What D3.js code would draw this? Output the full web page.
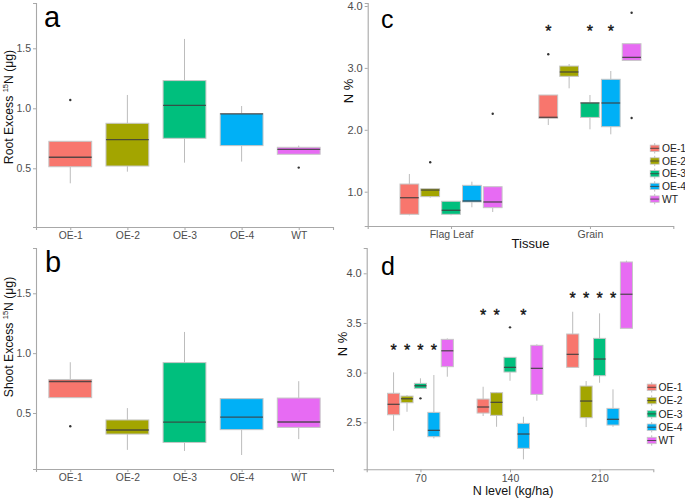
<!DOCTYPE html>
<html><head><meta charset="utf-8">
<script src="https://cdn.jsdelivr.net/npm/d3@7"></script>
<style>body{margin:0;background:#fff}svg{display:block;font-family:"Liberation Sans",Arial,sans-serif}</style>
</head><body><svg id="chart" width="685" height="499"></svg>
<script>
// ---------- data ----------
const genotypes = ["OE-1","OE-2","OE-3","OE-4","WT"];
const colors = ["#F8766D","#A3A500","#00BF7D","#00B0F6","#E76BF3"];
// each box: [lower whisker, q1, median, q3, upper whisker]
const rootStats = [[0.375,0.513,0.592,0.725,0.725],[0.472,0.519,0.739,0.875,1.111],[0.547,0.750,1.025,1.231,1.578],[0.556,0.689,0.953,0.956,1.019],[0.617,0.617,0.658,0.675,0.689]];
const rootOutliers = [[1.069],[],[],[],[0.506]];
const shootStats = [[0.628,0.628,0.763,0.780,0.924],[0.192,0.324,0.358,0.442,0.541],[0.183,0.254,0.423,0.921,1.177],[0.149,0.361,0.465,0.620,0.620],[0.282,0.380,0.425,0.625,0.766]];
const shootOutliers = [[0.389],[],[],[],[]];
const yTicksAB = [0.5,1.0,1.5];

const tissues = ["Flag Leaf","Grain"];
const flagLeafStats = [[0.619,0.635,0.903,1.124,1.286],[0.903,0.920,1.027,1.049,1.049],[0.619,0.635,0.700,0.845,0.845],[0.748,0.834,0.850,1.103,1.162],[0.672,0.742,0.834,1.081,1.081]];
const flagLeafOutliers = [[],[1.475],[],[],[2.26]];
const grainStats = [[2.077,2.186,2.202,2.562,2.562],[2.670,2.864,2.934,3.030,3.063],[2.008,2.200,2.433,2.438,2.562],[1.927,2.050,2.433,2.816,2.950],[3.122,3.122,3.170,3.391,3.391]];
const grainOutliers = [[3.22],[],[],[],[3.89,2.19]];
const tissueStars = [[],[0,2,3]];       // genotype indices marked per tissue
const tissueStarLevel = [null,3.63];
const yTicksC = [1.0,2.0,3.0,4.0];

const nLevels = ["70","140","210"];
const n70Stats = [[2.415,2.576,2.681,2.792,3.003],[2.606,2.697,2.737,2.764,2.774],[2.842,2.842,2.868,2.892,2.943],[2.338,2.355,2.419,2.600,2.976],[2.959,3.060,3.220,3.335,3.345]];
const n70Outliers = [[],[],[2.741],[],[]];
const n140Stats = [[2.563,2.593,2.654,2.734,2.858],[2.455,2.570,2.701,2.798,2.805],[2.918,3.006,3.053,3.154,3.154],[2.127,2.238,2.382,2.489,2.556],[2.717,2.781,3.043,3.275,3.285]];
const n140Outliers = [[],[],[3.456],[],[]];
const n210Stats = [[3.053,3.053,3.184,3.389,3.613],[2.452,2.546,2.714,2.865,2.915],[2.898,2.969,3.137,3.345,3.597],[2.455,2.472,2.530,2.640,2.832],[3.446,3.446,3.789,4.114,4.127]];
const n210Outliers = [[],[],[],[],[]];
const nStars = [[0,1,2,3],[0,1,3],[0,1,2,3]];
const nStarLevel = [3.245,3.600,3.775];
const yTicksD = [2.5,3.0,3.5,4.0];

// ---------- drawing ----------
const svg = d3.select("#chart");
const AXIS = "#a8a8a8", WHISK = "#bcbcbc", OUTLINE = "#c6c6c6", MED = "#3d3d3d", TICKTXT = "#4d4d4d";

function yScale(v1,p1,v2,p2,top,bottom){
  const k = (p2-p1)/(v2-v1);
  const lo = v1 + (bottom-p1)/k, hi = v1 + (top-p1)/k;
  return d3.scaleLinear().domain([lo,hi]).range([bottom,top]);
}

function axes(g, x, y, yTicks, fmt, yFont, xFont){
  const xa = g.append("g").attr("transform",`translate(0,${y.range()[0]})`)
    .call(d3.axisBottom(x).tickSizeOuter(0).tickSize(3).tickPadding(2));
  const ya = g.append("g").attr("transform",`translate(${x.range()[0]},0)`)
    .call(d3.axisLeft(y).tickValues(yTicks).tickFormat(d3.format(fmt)).tickSizeOuter(0).tickSize(3).tickPadding(2));
  [xa,ya].forEach(a=>{
    a.select(".domain").attr("stroke",AXIS).attr("stroke-width",1.1);
    a.selectAll(".tick line").attr("stroke",AXIS);
    a.selectAll(".tick text").attr("fill",TICKTXT).attr("font-family","Liberation Sans, Arial, sans-serif");
  });
  xa.selectAll(".tick text").attr("font-size",xFont);
  ya.selectAll(".tick text").attr("font-size",yFont);
}

function box(g, cx, w, s, color, outs, y){
  const [lw,q1,med,q3,uw] = s;
  g.append("line").attr("x1",cx).attr("x2",cx).attr("y1",y(q3)).attr("y2",y(uw)).attr("stroke",WHISK).attr("stroke-width",1);
  g.append("line").attr("x1",cx).attr("x2",cx).attr("y1",y(q1)).attr("y2",y(lw)).attr("stroke",WHISK).attr("stroke-width",1);
  g.append("rect").attr("x",cx-w/2).attr("width",w).attr("y",y(q3)).attr("height",Math.max(0.5,y(q1)-y(q3)))
    .attr("fill",color).attr("stroke",OUTLINE).attr("stroke-width",1);
  g.append("line").attr("x1",cx-w/2).attr("x2",cx+w/2).attr("y1",y(med)).attr("y2",y(med)).attr("stroke",MED).attr("stroke-width",1.3).attr("stroke-opacity",0.85);
  outs.forEach(o=>g.append("circle").attr("cx",cx).attr("cy",y(o)).attr("r",1.2).attr("fill","#333"));
}

function yTitle(xb, yc, parts, size){
  const t = svg.append("text").attr("transform",`translate(${xb},${yc}) rotate(-90)`).attr("text-anchor","middle")
    .attr("font-size",size).attr("fill","#111");
  parts.forEach(p=>{
    const ts = t.append("tspan").text(p.t);
    if(p.sup) ts.attr("font-size",size*0.62).attr("dy",-size*0.38);
    else if(p.after) ts.attr("dy",size*0.38);
  });
}

function star(g, cx, cy){
  g.append("text").attr("x",cx).attr("y",cy+8).attr("text-anchor","middle").attr("font-size",16)
    .attr("fill","#111").attr("stroke","#111").attr("stroke-width",0.35).text("*");
}

function legend(g, x0, yc0, step, textX){
  genotypes.forEach((gname,i)=>{
    const yc = yc0 + i*step, w = 9, h = 6.4;
    g.append("line").attr("x1",x0).attr("x2",x0).attr("y1",yc-h/2-2).attr("y2",yc+h/2+2).attr("stroke",WHISK);
    g.append("rect").attr("x",x0-w/2).attr("y",yc-h/2).attr("width",w).attr("height",h).attr("fill",colors[i]).attr("stroke",OUTLINE).attr("stroke-width",0.8);
    g.append("line").attr("x1",x0-w/2).attr("x2",x0+w/2).attr("y1",yc).attr("y2",yc).attr("stroke",MED).attr("stroke-width",1).attr("stroke-opacity",0.85);
    g.append("text").attr("x",textX).attr("y",yc+3.6).attr("font-size",10.3).attr("fill","#222").text(gname);
  });
}

// ----- panel a -----
(function(){
  const g = svg.append("g");
  const x = d3.scalePoint().domain(genotypes).range([36,333]).padding(0.6);
  const y = yScale(0.5,168.3,1.5,48.3,3,227);
  axes(g,x,y,yTicksAB,".1f",10.5,10.3);
  const w = x.step()*0.75;
  genotypes.forEach((gn,i)=>box(g,x(gn),w,rootStats[i],colors[i],rootOutliers[i],y));
  svg.append("text").attr("x",44).attr("y",27).attr("font-size",29).attr("fill","#000").text("a");
  yTitle(13,107,[{t:"Root Excess "},{t:"15",sup:true},{t:"N (μg)",after:true}],12.2);
})();

// ----- panel b -----
(function(){
  const g = svg.append("g");
  const x = d3.scalePoint().domain(genotypes).range([36,333]).padding(0.6);
  const y = yScale(0.5,413,1.5,293.3,248,469);
  axes(g,x,y,yTicksAB,".1f",10.5,10.3);
  const w = x.step()*0.75;
  genotypes.forEach((gn,i)=>box(g,x(gn),w,shootStats[i],colors[i],shootOutliers[i],y));
  svg.append("text").attr("x",45).attr("y",272).attr("font-size",29).attr("fill","#000").text("b");
  yTitle(13,337,[{t:"Shoot Excess "},{t:"15",sup:true},{t:"N (μg)",after:true}],12.2);
})();

// ----- panel c -----
(function(){
  const g = svg.append("g");
  const x = d3.scalePoint().domain(tissues).range([367.7,673.3]).padding(0.6);
  const y = yScale(1.0,191.7,4.0,6,3,226);
  axes(g,x,y,yTicksC,".1f",11,10.5);
  const sub = x.step()*0.75/5;
  const stats = [flagLeafStats,grainStats], outs = [flagLeafOutliers,grainOutliers];
  tissues.forEach((t,ti)=>{
    genotypes.forEach((gn,i)=>box(g,x(t)+(i-2)*sub,sub*0.9,stats[ti][i],colors[i],outs[ti][i],y));
    tissueStars[ti].forEach(i=>star(g,x(t)+(i-2)*sub,y(tissueStarLevel[ti])));
  });
  svg.append("text").attr("x",381).attr("y",28).attr("font-size",25).attr("fill","#000").text("c");
  yTitle(352.5,91,[{t:"N %"}],13);
  svg.append("text").attr("x",530.5).attr("y",248).attr("text-anchor","middle").attr("font-size",13).attr("fill","#111").text("Tissue");
  legend(g,654.7,148.3,12.7,662);
})();

// ----- panel d -----
(function(){
  const g = svg.append("g");
  const x = d3.scalePoint().domain(nLevels).range([366.7,653.3]).padding(0.6);
  const y = yScale(2.5,422.3,4.0,273.3,248,469.3);
  axes(g,x,y,yTicksD,".1f",11,10.5);
  const sub = x.step()*0.75/5;
  const stats = [n70Stats,n140Stats,n210Stats], outs = [n70Outliers,n140Outliers,n210Outliers];
  nLevels.forEach((lv,li)=>{
    genotypes.forEach((gn,i)=>box(g,x(lv)+(i-2)*sub,sub*0.9,stats[li][i],colors[i],outs[li][i],y));
    nStars[li].forEach(i=>star(g,x(lv)+(i-2)*sub,y(nStarLevel[li])));
  });
  svg.append("text").attr("x",381).attr("y",275).attr("font-size",25).attr("fill","#000").text("d");
  yTitle(347,344,[{t:"N %"}],13);
  svg.append("text").attr("x",513).attr("y",495).attr("text-anchor","middle").attr("font-size",12.5).attr("fill","#111").text("N level (kg/ha)");
  legend(g,651.7,387.3,13.3,658.5);
})();
</script></body></html>
